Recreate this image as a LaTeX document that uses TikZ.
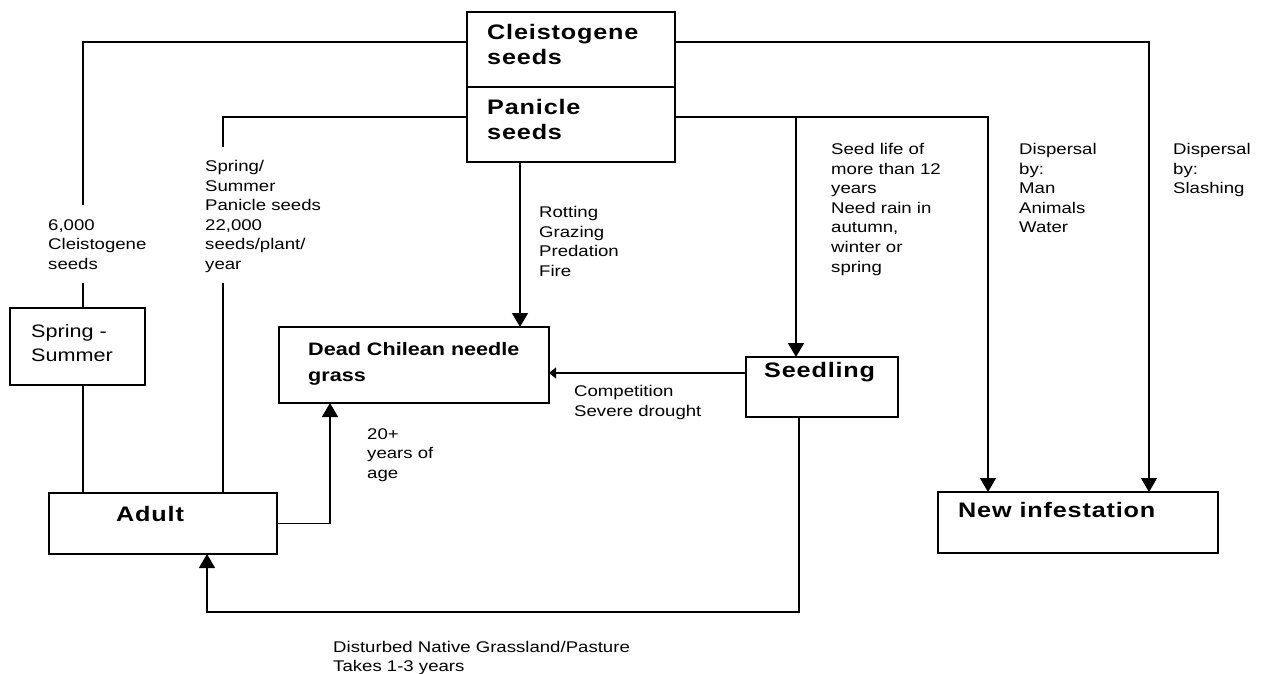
\documentclass[tikz,border=0pt]{standalone}
\usepackage{fontspec}
\setmainfont{Liberation Sans}[FakeStretch=1.2]
\usetikzlibrary{arrows.meta}
\begin{document}
\begin{tikzpicture}[x=1pt,y=-1pt,
  box/.style={draw, line width=1.3pt, rectangle, inner sep=0pt, outer sep=0pt, anchor=north west},
  lbl/.style={anchor=north west, inner sep=0pt, align=left, font=\fontsize{15.5}{19.6}\selectfont},
  bx/.style={anchor=north west, inner sep=0pt, align=left, font=\fontsize{21}{25}\selectfont\bfseries\addfontfeature{LetterSpace=4}},
  ln/.style={line width=1.3pt},
  arr/.style={ln, -{Triangle[width=16pt,length=14pt]}},
  arrs/.style={ln, -{Triangle[width=11pt,length=7pt]}},
]
\useasboundingbox (0,0) rectangle (1275,674);
% boxes
\node[box, minimum width=208pt, minimum height=75pt] (cleist) at (467,12) {};
\node[box, minimum width=208pt, minimum height=75pt] (panic) at (467,87) {};
\node[box, minimum width=135pt, minimum height=77pt] (spring) at (10,308) {};
\node[box, minimum width=270pt, minimum height=76pt] (dead) at (279,327) {};
\node[box, minimum width=152pt, minimum height=60pt] (seedling) at (746,357) {};
\node[box, minimum width=228pt, minimum height=61pt] (adult) at (49,493) {};
\node[box, minimum width=280pt, minimum height=61pt] (newinf) at (938,492) {};
% box texts
\node[bx] (tcleist) at (487,24) {Cleistogene\\seeds};
\node[bx] (tpanic) at (487,99) {Panicle\\seeds};
\node[anchor=north west, inner sep=0pt, align=left, font=\fontsize{18}{26}\selectfont\bfseries] (tdead) at (308,342) {Dead Chilean needle\\grass};
\node[anchor=north west, inner sep=0pt, align=left, font=\fontsize{18}{24}\selectfont] (tspring) at (31,324) {Spring -\\Summer};
\node[bx] (tadult) at (116,506) {Adult};
\node[bx] (tseed) at (764,362) {Seedling};
\node[bx] (tnew) at (958,502) {New infestation};
% coordinates
\coordinate (cgapT) at (83,205);
\coordinate (cgapB) at (83,283);
\coordinate (pgapT) at (223,147);
\coordinate (pgapB) at (223,283);
\coordinate (xD) at (520,0);
\coordinate (jS) at (796,117);
\coordinate (xN1) at (988,0);
\coordinate (xN2) at (1149,0);
\coordinate (yC) at (0,373);
\coordinate (xSd) at (799,0);
\coordinate (bl) at (207,612);
\coordinate (xA2) at (330,0);
% connectors
\draw[ln] ([yshift=7.5pt]cleist.west) -| (cgapT);
\draw[ln] (cgapB) -- (spring.north -| cgapB);
\draw[ln] (spring.south -| cgapB) -- (adult.north -| cgapB);
\draw[arr] ([yshift=7.5pt]cleist.east) -| (newinf.north -| xN2);
\draw[ln] ([yshift=7.5pt]panic.west) -| (pgapT);
\draw[ln] (pgapB) -- (adult.north -| pgapB);
\draw[arr] ([yshift=7.5pt]panic.east) -| (newinf.north -| xN1);
\draw[arr] (jS) -- (seedling.north -| jS);
\draw[arr] (panic.south -| xD) -- (dead.north -| xD);
\draw[arrs] (seedling.west |- yC) -- (dead.east |- yC);
\draw[arr] (seedling.south -| xSd) |- (bl) -- (adult.south -| bl);
\draw[arr] (adult.east) -| (dead.south -| xA2);
% labels
\node[lbl] (l1) at (48,219) {6,000\\Cleistogene\\seeds};
\node[lbl] (l2) at (205,160) {Spring/\\Summer\\Panicle seeds\\22,000\\seeds/plant/\\year};
\node[lbl] (l3) at (539,206) {Rotting\\Grazing\\Predation\\Fire};
\node[lbl] (l4) at (831,143) {Seed life of\\more than 12\\years\\Need rain in\\autumn,\\winter or\\spring};
\node[lbl] (l5) at (1019,143) {Dispersal\\by:\\Man\\Animals\\Water};
\node[lbl] (l6) at (1173,143) {Dispersal\\by:\\Slashing};
\node[lbl, font=\fontsize{15.5}{19}\selectfont] (l9) at (333,641) {Disturbed Native Grassland/Pasture\\Takes 1-3 years};
\node[lbl] (l7) at (574,385) {Competition\\Severe drought};
\node[lbl] (l8) at (367,428) {20+\\years of\\age};
\end{tikzpicture}
\end{document}
